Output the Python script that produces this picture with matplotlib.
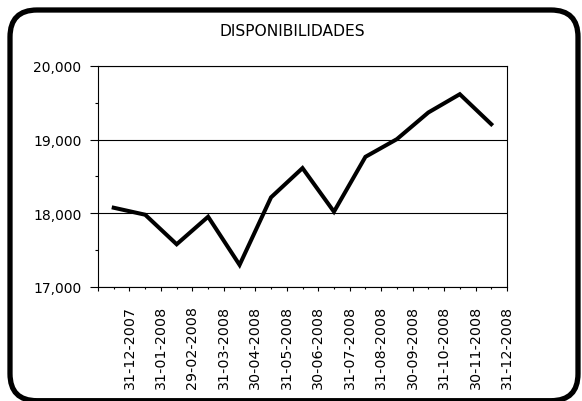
import matplotlib
matplotlib.use("Agg")
import matplotlib.pyplot as plt
from matplotlib.patches import FancyBboxPatch
from matplotlib.transforms import IdentityTransform
from matplotlib.ticker import FuncFormatter, MultipleLocator, FixedLocator

dates = ["31-12-2007", "31-01-2008", "29-02-2008", "31-03-2008", "30-04-2008",
         "31-05-2008", "30-06-2008", "31-07-2008", "31-08-2008", "30-09-2008",
         "31-10-2008", "30-11-2008", "31-12-2008"]
values = [18076, 17981, 17580, 17954, 17300, 18217, 18614, 18022, 18767,
          19007, 19369, 19617, 19210]
title = "DISPONIBILIDADES"

plt.rcParams['font.family'] = ['DejaVu Sans']

fig = plt.figure(figsize=(5.82, 4.02), dpi=100)
fig.patch.set_facecolor('white')

# Rounded outer border (pixel coordinates)
box = FancyBboxPatch((10, 0.3), 568, 390.7, boxstyle="round,pad=0,rounding_size=27",
                     transform=IdentityTransform(), fill=False,
                     edgecolor='black', linewidth=3.8, zorder=0)
fig.patches.append(box)

ax = fig.add_axes([98/582, 1-288/402, (507-98)/582, (288-67)/402])
n = len(values)
xs = [i + 0.5 for i in range(n)]
ax.plot(xs, values, color='black', linewidth=2.9, solid_joinstyle='miter', zorder=3)

ax.set_xlim(0, n)
ax.set_ylim(17000, 20000)

ax.yaxis.set_major_locator(MultipleLocator(1000))
ax.yaxis.set_minor_locator(MultipleLocator(500))
ax.yaxis.set_major_formatter(FuncFormatter(lambda v, p: f"{int(v):,}"))
ax.grid(axis='y', which='major', color='black', linewidth=0.8)

ax.xaxis.set_major_locator(FixedLocator(list(range(0, n + 1))))
ax.set_xticklabels([""] + dates, rotation=90, ha='center', va='top')
ax.xaxis.set_minor_locator(FixedLocator(xs))

ax.tick_params(axis='y', which='major', length=6, width=0.8, direction='out',
               labelsize=10, pad=6)
ax.tick_params(axis='y', which='minor', length=2.5, width=0.8, direction='out')
ax.tick_params(axis='x', which='major', length=3, width=0.8, direction='out',
               labelsize=10.3, pad=10)
ax.tick_params(axis='x', which='minor', length=1.5, width=0.8, direction='out')

for s in ax.spines.values():
    s.set_color('black')
    s.set_linewidth(0.8)

fig.text(292/582, 1-32/402, title, ha='center', va='center', fontsize=11.2)

fig.savefig("out.png", dpi=100, facecolor='white')
